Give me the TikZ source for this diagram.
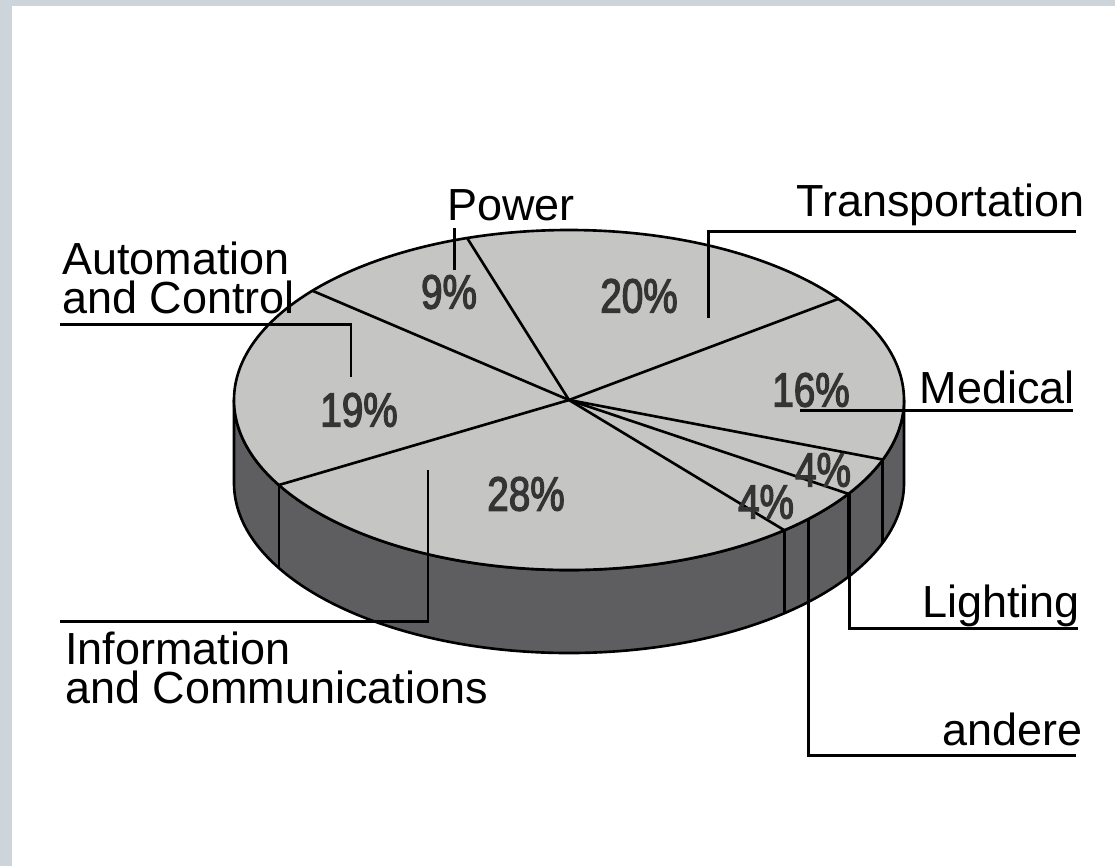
\documentclass[tikz,border=0pt]{standalone}
\usepackage{fontspec}
\setmainfont{Liberation Sans}
\newfontfamily\pctfont[FakeStretch=0.8,FakeBold=2.5]{Liberation Sans}
\definecolor{framecol}{RGB}{205,213,218}
\definecolor{topgray}{RGB}{197,198,196}
\definecolor{sidegray}{RGB}{94,94,96}
\definecolor{pctgray}{RGB}{52,52,52}

\begin{document}
\begin{tikzpicture}[
    x=0.02cm, y=-0.02cm,
    label/.style={inner sep=0pt, font=\fontsize{25.6}{22.2}\selectfont, align=left},
    pct/.style={inner sep=0pt, text=pctgray, font=\pctfont\fontsize{27.5}{30}\selectfont},
    leader/.style={line width=1.7pt},
    rim/.style={line width=1.5pt, line join=round},
    edge/.style={line width=1.5pt}
  ]
    \useasboundingbox (0,0) rectangle (1115,866);
    % Frame
    \fill[white] (0,0) rectangle (1115,866);
    \fill[framecol] (0,0) rectangle (12,866);
    \fill[framecol] (0,0) rectangle (1115,6);

    % Pie body
    \coordinate (hub) at (569,400);
    \draw[rim, fill=sidegray] (234,400) -- (234,483)
      arc[start angle=180, end angle=0, x radius=335, y radius=170]
      -- (904,400)
      arc[start angle=0, end angle=180, x radius=335, y radius=170] -- cycle;
    \draw[rim, fill=topgray] (hub) ellipse[x radius=335, y radius=170];

    % Slices
    \foreach \a [count=\i] in {140,107.7,36.5,-20.5,-33.5,-50,-150}
      \coordinate (r\i) at ({569+335*cos(\a)},{400-170*sin(\a)});
    \foreach \i in {1,...,7}
      \draw[edge] (hub) -- (r\i);
    \foreach \i in {4,...,7}
      \draw[edge] (r\i) -- ++(0,83);

    % Percentages
    \node[pct] (p9) at (449,292) {9\%};
    \node[pct] (p20) at (639,296) {20\%};
    \node[pct] (p16) at (811,390) {16\%};
    \node[pct] (p4a) at (823,470) {4\%};
    \node[pct] (p4b) at (766,502) {4\%};
    \node[pct] (p28) at (526,494) {28\%};
    \node[pct] (p19) at (359,410) {19\%};

    % Labels
    \node[label, anchor=base west] (auto) at (62,313) {Automation\\and Control};
    \node[label, anchor=base west] (power) at (447,220) {Power};
    \node[label, anchor=base east] (trans) at (1085,216) {Transportation};
    \node[label, anchor=base east] (med) at (1075,403) {Medical};
    \node[label, anchor=base east] (light) at (1080,617) {Lighting};
    \node[label, anchor=base east] (other) at (1083,745) {andere};
    \node[label, anchor=base west] (info) at (65,703) {Information\\and Communications};

    % Leaders
    \coordinate (autotip) at (351,377);
    \coordinate (autoend) at (60,324);
    \coordinate (powertip) at (454,270);
    \coordinate (powerend) at (454,228);
    \coordinate (transtip) at (708,318);
    \coordinate (transend) at (1076,231);
    \coordinate (medtip) at (800,410);
    \coordinate (medend) at (1073,410);
    \coordinate (lighttip) at (849,493);
    \coordinate (lightend) at (1078,628);
    \coordinate (othertip) at (808,520);
    \coordinate (otherend) at (1076,755);
    \coordinate (infotip) at (428,470);
    \coordinate (infoend) at (60,621);
    \draw[leader] (autotip) |- (autoend);
    \draw[leader] (powertip) -- (powerend);
    \draw[leader] (transtip) |- (transend);
    \draw[leader] (medtip) -- (medend);
    \draw[leader] (lighttip) |- (lightend);
    \draw[leader] (othertip) |- (otherend);
    \draw[leader] (infotip) |- (infoend);
  \end{tikzpicture}
\end{document}
